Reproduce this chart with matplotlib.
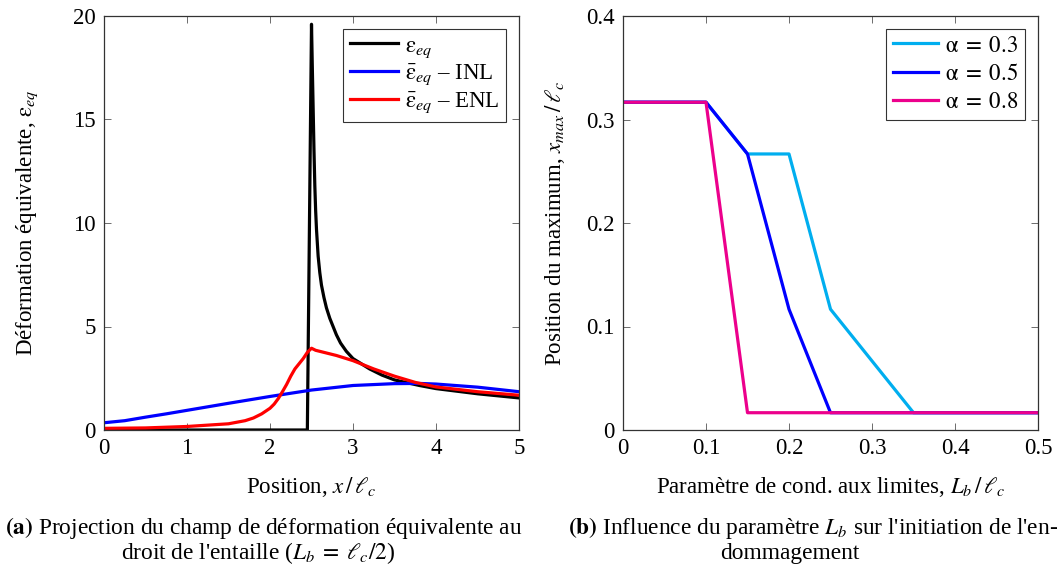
import matplotlib
matplotlib.use("Agg")
import matplotlib.pyplot as plt
import numpy as np

plt.rcParams['font.family'] = ['Liberation Serif', 'DejaVu Serif']
plt.rcParams['mathtext.fontset'] = 'stix'

# ---- Left panel data ----
x_eps = [0.0, 2.45, 2.45, 2.50, 2.51, 2.52, 2.53, 2.54, 2.55, 2.56, 2.58, 2.60, 2.62, 2.65, 2.68, 2.72, 2.76, 2.80, 2.85, 2.92, 3.00, 3.10, 3.20, 3.35, 3.50, 3.80, 4.00, 4.50, 5.00]
y_eps = [0.0, 0.0, 0.0, 19.6, 17.5, 15.5, 13.5, 11.8, 10.6, 9.7, 8.4, 7.6, 7.0, 6.4, 5.9, 5.4, 5.0, 4.6, 4.2, 3.8, 3.45, 3.2, 2.95, 2.65, 2.42, 2.15, 2.0, 1.75, 1.55]

x_inl = [0.0, 0.25, 0.5, 0.75, 1.0, 1.5, 2.0, 2.5, 3.0, 3.5, 3.8, 4.0, 4.5, 5.0]
y_inl = [0.35, 0.45, 0.62, 0.78, 0.95, 1.29, 1.62, 1.93, 2.15, 2.24, 2.25, 2.22, 2.07, 1.85]

x_enl = [0.0, 0.5, 1.0, 1.5, 1.7, 1.8, 1.9, 2.0, 2.05, 2.1, 2.15, 2.2, 2.25, 2.3, 2.35, 2.4, 2.45, 2.50, 2.55, 2.65, 2.80, 3.00, 3.25, 3.50, 3.75, 4.00, 4.50, 5.00]
y_enl = [0.08, 0.1, 0.17, 0.3, 0.45, 0.58, 0.78, 1.05, 1.25, 1.52, 1.85, 2.2, 2.6, 2.95, 3.2, 3.45, 3.75, 3.95, 3.85, 3.75, 3.6, 3.35, 2.95, 2.6, 2.3, 2.08, 1.85, 1.68]

# ---- Right panel data ----
lb_03 = [0.0, 0.1, 0.15, 0.2, 0.25, 0.35, 0.5]
xm_03 = [0.3167, 0.3167, 0.2667, 0.2667, 0.1167, 0.0167, 0.0167]
lb_05 = [0.0, 0.1, 0.15, 0.2, 0.25, 0.5]
xm_05 = [0.3167, 0.3167, 0.2667, 0.1167, 0.0167, 0.0167]
lb_08 = [0.0, 0.1, 0.15, 0.5]
xm_08 = [0.3167, 0.3167, 0.0167, 0.0167]

fig = plt.figure(figsize=(10.62, 5.76), dpi=100)
W, H = 1062, 576
axL = fig.add_axes([104 / W, (576 - 430) / H, (519 - 104) / W, (430 - 16) / H])
axR = fig.add_axes([623 / W, (576 - 430) / H, (1038 - 623) / W, (430 - 16) / H])

fs = 16.5
lw = 2.3
axL.plot(x_eps, y_eps, color='black', lw=lw, label=r'$\mathrm{\varepsilon}_{eq}$')
axL.plot(x_inl, y_inl, color='#0000FF', lw=lw, label=r'$\bar{\mathrm{\varepsilon}}_{eq}$ – INL')
axL.plot(x_enl, y_enl, color='#FF0000', lw=lw, label=r'$\bar{\mathrm{\varepsilon}}_{eq}$ – ENL')
axL.set_xlim(0, 5)
axL.set_ylim(0, 20)
axL.set_xticks([0, 1, 2, 3, 4, 5])
axL.set_yticks([0, 5, 10, 15, 20])
axL.set_xlabel(r'Position, $x\,/\,\ell_c$', fontsize=fs, labelpad=11)
axL.set_ylabel(r'Déformation équivalente, $\mathrm{\varepsilon}_{eq}$', fontsize=fs, labelpad=24)

axR.plot(lb_03, xm_03, color='#00AEEF', lw=lw, label=r'$\mathrm{\alpha}\;=\;0.3$')
axR.plot(lb_05, xm_05, color='#0000FF', lw=lw, label=r'$\mathrm{\alpha}\;=\;0.5$')
axR.plot(lb_08, xm_08, color='#EC008C', lw=lw, label=r'$\mathrm{\alpha}\;=\;0.8$')
axR.set_xlim(0, 0.5)
axR.set_ylim(0, 0.4)
axR.set_xticks([0, 0.1, 0.2, 0.3, 0.4, 0.5])
axR.set_xticklabels(['0', '0.1', '0.2', '0.3', '0.4', '0.5'])
axR.set_yticks([0, 0.1, 0.2, 0.3, 0.4])
axR.set_yticklabels(['0', '0.1', '0.2', '0.3', '0.4'])
axR.set_xlabel(r'Paramètre de cond. aux limites, $L_b\,/\,\ell_c$', fontsize=fs, labelpad=11)
axR.set_ylabel(r'Position du maximum, $x_{max}\,/\,\ell_c$', fontsize=fs, labelpad=14)

for ax, ls, hl in ((axL, 0.15, 2.1), (axR, 0.32, 2.0)):
    ax.tick_params(direction='in', top=True, right=True, labelsize=fs, length=5,
                   width=0.6, color='#555555', pad=6)
    for s in ax.spines.values():
        s.set_linewidth(0.9)
        s.set_color('#333333')
    leg = ax.legend(loc='upper right', fontsize=fs, frameon=True, fancybox=False,
                    edgecolor='black', handlelength=hl, handletextpad=0.3,
                    borderpad=0.3, labelspacing=ls, borderaxespad=0.55)
    leg.get_frame().set_linewidth(0.8)

cs = 16.8
fig.text(5 / W, 1 - 528 / H, r'$\mathbf{(a)}$ Projection du champ de déformation équivalente au',
         fontsize=cs, ha='left', va='center')
fig.text(258 / W, 1 - 553 / H, r"droit de l'entaille ($L_b\;=\;\ell_c/2$)",
         fontsize=cs, ha='center', va='center')
fig.text(1058 / W, 1 - 528 / H, r"$\mathbf{(b)}$ Influence du paramètre $L_b$ sur l'initiation de l'en-",
         fontsize=cs, ha='right', va='center')
fig.text(790 / W, 1 - 553 / H, 'dommagement', fontsize=cs, ha='center', va='center')

fig.savefig('out.png', dpi=100)
